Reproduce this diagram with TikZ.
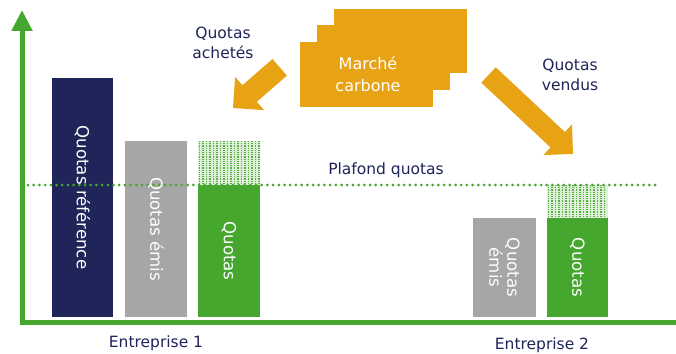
\documentclass[tikz,border=0pt]{standalone}
\usepackage{fontspec}
\setmainfont{DejaVu Sans}
\usetikzlibrary{arrows.meta}
\definecolor{navy}{HTML}{1F2459}
\definecolor{barblue}{HTML}{1F2459}
\definecolor{bargray}{HTML}{A6A6A6}
\definecolor{bargreen}{HTML}{45A72E}
\definecolor{mkorange}{HTML}{E8A314}
\begin{document}
\begin{tikzpicture}[x=1pt,y=-1pt,
  lbl/.style={text=navy,font=\fontsize{15.5}{20}\selectfont,align=center,inner sep=0pt},
  bartext/.style={text=white,font=\fontsize{16.6}{18}\selectfont,rotate=-90,align=center,inner sep=0pt},
  axis/.style={line width=5pt,draw=bargreen,-{Triangle[width=20pt,length=21pt]}},
  plafond/.style={draw=bargreen,line width=3pt,line cap=round,dash pattern=on 0pt off 5.7pt},
  hatchbg/.style={fill=bargreen!18},
  hatchline/.style={draw=bargreen!90,line width=1.2pt,dash pattern=on 1.2pt off 1pt}]
\clip (0,0) rectangle (676,353);
\fill[white] (0,0) rectangle (676,353);
% bars Entreprise 1
\fill[barblue] (52,78) rectangle (113,317);
\fill[bargray] (125,141) rectangle (187,317);
\fill[hatchbg] (198,141) rectangle (260,185);
\foreach \x in {199.5,203,...,259} \draw[hatchline] (\x,141) -- (\x,185);
\fill[bargreen] (198,185) rectangle (260,317);
% bars Entreprise 2
\fill[bargray] (473,218) rectangle (536,317);
\fill[hatchbg] (547,185) rectangle (608,218);
\foreach \x in {548.5,552,...,607} \draw[hatchline] (\x,185) -- (\x,218);
\fill[bargreen] (547,218) rectangle (608,317);
% plafond line
\coordinate (p0) at (28,185);
\coordinate (p1) at (656,185);
\draw[plafond] (p0) -- (p1);
% bar labels
\node[bartext] (t1) at (82.5,197.5) {Quotas référence};
\node[bartext] (t2) at (156,229) {Quotas émis};
\node[bartext] (t3) at (229,251) {Quotas};
\node[bartext] (t4) at (504.5,267.5) {Quotas\\émis};
\node[bartext] (t5) at (577.5,267.5) {Quotas};
% axes
\coordinate (top) at (22,10);
\coordinate (orig) at (22,322);
\coordinate (right) at (686,322);
\draw[axis,{Triangle[width=20pt,length=21pt]}-] (top) -- (orig) -- (right);
% marche carbone
\fill[mkorange] (334,9) rectangle (467,73);
\fill[mkorange] (317,25) rectangle (450,90);
\fill[mkorange] (300,42) rectangle (433,107);
\node[text=white,font=\fontsize{16}{22}\selectfont,align=center,inner sep=0pt] (mc) at (368,74) {Marché\\carbone};
% block arrows
\fill[mkorange] (272.5,59.0) -- (242.4,85.2) -- (235.1,76.9) -- (233,108) -- (264.1,110.1) -- (256.8,101.8) -- (286.9,75.6) -- cycle;
\fill[mkorange] (495.7,67.3) -- (564.9,132.0) -- (572.0,124.4) -- (573,154) -- (543.4,155.0) -- (550.5,147.4) -- (481.3,82.7) -- cycle;
% labels
\node[lbl] (achetes) at (223,43) {Quotas\\achetés};
\node[lbl] (vendus) at (570,75) {Quotas\\vendus};
\node[lbl] (plaf) at (386,170) {Plafond quotas};
\node[lbl] (e1) at (156,343) {Entreprise 1};
\node[lbl] (e2) at (542,345) {Entreprise 2};
\end{tikzpicture}
\end{document}
